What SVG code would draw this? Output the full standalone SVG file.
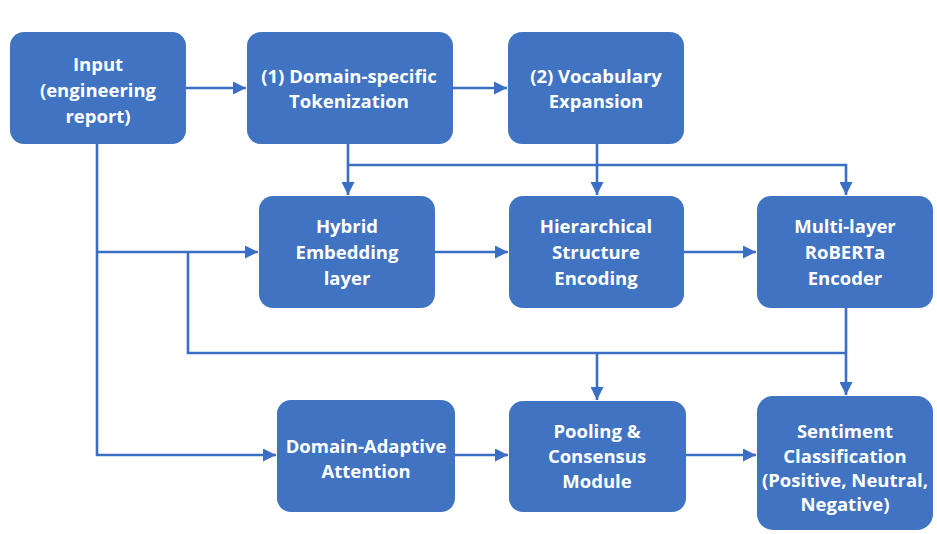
<svg xmlns="http://www.w3.org/2000/svg" width="937" height="534" viewBox="0 0 937 534">
<defs>
<style>
.box{fill:#4173c3;}
.t{fill:#ffffff;font-family:"Open Sans","Liberation Sans",sans-serif;font-weight:700;font-size:18.5px;text-anchor:middle;}
.c{fill:none;stroke:#3b6fc6;stroke-width:2.6;}
</style>
<marker id="ah" viewBox="0 0 10 10" refX="10" refY="5" markerWidth="5" markerHeight="5" markerUnits="strokeWidth" orient="auto">
<path d="M0,0 L10,5 L0,10 z" fill="#3b6fc6"/>
</marker>
</defs>
<rect width="937" height="534" fill="#ffffff"/>
<g id="connectors">
<path class="c" d="M186,88 H246" marker-end="url(#ah)"/>
<path class="c" d="M453,88 H507" marker-end="url(#ah)"/>
<path class="c" d="M348,144 V195" marker-end="url(#ah)"/>
<path class="c" d="M348,165 H846 V195" marker-end="url(#ah)"/>
<path class="c" d="M597,144 V195" marker-end="url(#ah)"/>
<path class="c" d="M97,144 V455 H276" marker-end="url(#ah)"/>
<path class="c" d="M97,252 H258" marker-end="url(#ah)"/>
<path class="c" d="M188,252 V353 H846"/>
<path class="c" d="M435,252 H508" marker-end="url(#ah)"/>
<path class="c" d="M684,252 H756" marker-end="url(#ah)"/>
<path class="c" d="M846,308 V395" marker-end="url(#ah)"/>
<path class="c" d="M597,353 V400" marker-end="url(#ah)"/>
<path class="c" d="M455,455 H508" marker-end="url(#ah)"/>
<path class="c" d="M686,455 H756" marker-end="url(#ah)"/>
</g>
<g id="input">
<rect class="box" x="10" y="32" width="176" height="112" rx="14"/>
<text class="t" x="98" y="71">Input</text>
<text class="t" x="98" y="97">(engineering</text>
<text class="t" x="98" y="123">report)</text>
</g>
<g id="tokenization">
<rect class="box" x="247" y="32" width="206" height="112" rx="14"/>
<text class="t" x="349" y="83">(1) Domain-specific</text>
<text class="t" x="349" y="108">Tokenization</text>
</g>
<g id="vocabulary">
<rect class="box" x="508" y="32" width="176" height="112" rx="14"/>
<text class="t" x="596" y="83">(2) Vocabulary</text>
<text class="t" x="596" y="108">Expansion</text>
</g>
<g id="hybrid">
<rect class="box" x="259" y="196" width="176" height="112" rx="14"/>
<text class="t" x="347" y="233">Hybrid</text>
<text class="t" x="347" y="259">Embedding</text>
<text class="t" x="347" y="285">layer</text>
</g>
<g id="hierarchical">
<rect class="box" x="509" y="196" width="175" height="112" rx="14"/>
<text class="t" x="596" y="233">Hierarchical</text>
<text class="t" x="596" y="259">Structure</text>
<text class="t" x="596" y="285">Encoding</text>
</g>
<g id="roberta">
<rect class="box" x="757" y="196" width="176" height="112" rx="14"/>
<text class="t" x="845" y="233">Multi-layer</text>
<text class="t" x="845" y="259">RoBERTa</text>
<text class="t" x="845" y="285">Encoder</text>
</g>
<g id="attention">
<rect class="box" x="277" y="400" width="178" height="112" rx="14"/>
<text class="t" x="366" y="453">Domain-Adaptive</text>
<text class="t" x="366" y="478">Attention</text>
</g>
<g id="pooling">
<rect class="box" x="509" y="401" width="177" height="111" rx="14"/>
<text class="t" x="597" y="438">Pooling &amp;</text>
<text class="t" x="597" y="463">Consensus</text>
<text class="t" x="597" y="488">Module</text>
</g>
<g id="sentiment">
<rect class="box" x="757" y="396" width="176" height="134" rx="16"/>
<text class="t" x="845" y="438">Sentiment</text>
<text class="t" x="845" y="463">Classification</text>
<text class="t" x="845" y="487">(Positive, Neutral,</text>
<text class="t" x="845" y="511">Negative)</text>
</g>
</svg>
